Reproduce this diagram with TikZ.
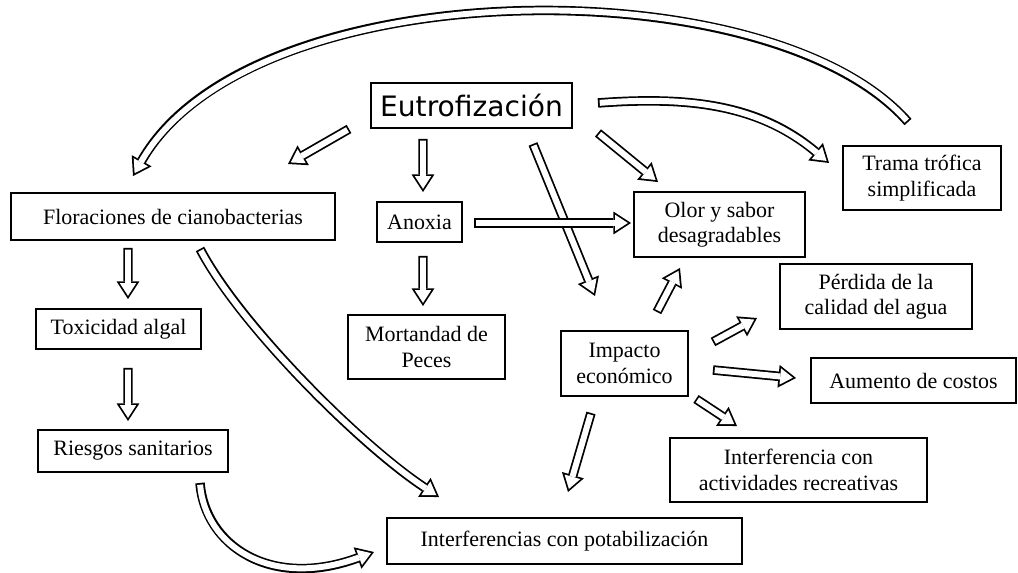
\documentclass[tikz,border=0pt]{standalone}
\usepackage{fontspec}
\setmainfont{Liberation Serif}
\newfontfamily\titulo{DejaVu Sans}
\usetikzlibrary{arrows.meta}

\def\px{0.02cm} % one pixel of the drawing
\tikzset{
  caja/.style 2 args={draw, line width=1.1pt, inner sep=0pt, align=center,
    minimum width=#1*\px, minimum height=#2*\px},
  % hollow arrow: black outline first, white core on top
  flecha/.style={white, line width=3.4pt, shorten <=1pt, shorten >=1.84pt,
    -{Triangle[length=7.17pt, width=9.31pt, line width=0pt]},
    preaction={draw=black, line width=5.4pt, shorten <=0pt, shorten >=0pt,
      -{Triangle[length=10pt, width=13pt, line width=0pt]}}}
}

\begin{document}
\begin{tikzpicture}[x=\px, y=-\px, font=\fontsize{12.5}{14.5}\selectfont]
  \useasboundingbox (0,0) rectangle (1018,573);

  % boxes
  \node[caja={201}{45}] (eutro) at (471.5,105.5) {\titulo\fontsize{16}{18}\selectfont Eutrofización};
  \node[caja={324}{47}] (flor)  at (173,216.5) {Floraciones de cianobacterias};
  \node[caja={85}{40}]  (anox)  at (419.5,222) {Anoxia};
  \node[caja={171}{65}] (olor)  at (719.5,224.5) {Olor y sabor\\desagradables};
  \node[caja={158}{64}] (trama) at (922,178) {Trama trófica\\simplificada};
  \node[caja={165}{40}] (tox)   at (118.5,329) {Toxicidad algal};
  \node[caja={157}{64}] (mort)  at (426.5,347) {Mortandad de\\Peces};
  \node[caja={127}{65}] (imp)   at (624.5,363.5) {Impacto\\económico};
  \node[caja={192}{65}] (perd)  at (876,296.5) {Pérdida de la\\calidad del agua};
  \node[caja={205}{45}] (aum)   at (913.5,380.5) {Aumento de costos};
  \node[caja={190}{42}] (ries)  at (133,451) {Riesgos sanitarios};
  \node[caja={257}{64}] (rec)   at (798.5,470) {Interferencia con\\actividades recreativas};
  \node[caja={355}{46}] (pot)   at (564.5,541) {Interferencias con potabilización};

  % arrows out of Eutrofizacion
  \draw[flecha] ([shift={(-21,0)}]eutro.south west) -- ([shift={(-48,-28)}]flor.north east);
  \draw[flecha] ([shift={(-48.5,10)}]eutro.south) -- ([shift={(3.5,-9)}]anox.north);
  \draw[flecha] ([shift={(61.5,15)}]eutro.south) -- ([shift={(-29.5,-34)}]imp.north);
  \draw[flecha] ([shift={(25,4)}]eutro.south east) -- ([shift={(-61.5,-9)}]olor.north);
  \draw[flecha] ([shift={(25,-2.5)}]eutro.east) .. controls (690,96) and (760,105) .. ([shift={(-13,-15)}]trama.west);
  \draw[flecha] ([shift={(-14,-23)}]trama.north) .. controls (770,-35) and (250,-30) .. ([shift={(-40,-16)}]flor.north);

  % left and middle column
  \draw[flecha] ([shift={(11,1)}]anox.east) -- ([shift={(-2,-1.5)}]olor.west);
  \draw[flecha] ([shift={(3.5,13)}]anox.south) -- ([shift={(-3.5,-8)}]mort.north);
  \draw[flecha] ([shift={(-45,7)}]flor.south) -- ([shift={(9.5,-9)}]tox.north);
  \draw[flecha] ([shift={(9.5,18)}]tox.south) -- ([shift={(-5,-8)}]ries.north);
  \draw[flecha] ([shift={(27,8)}]flor.south) .. controls (240,325) and (360,445) .. ([shift={(53,-20)}]pot.north west);
  \draw[flecha] ([shift={(-29,10)}]ries.south east) .. controls (205,545) and (270,590) .. ([shift={(-12,11)}]pot.west);

  % arrows out of Impacto
  \draw[flecha] ([shift={(32.5,-18)}]imp.north) -- ([shift={(-39.5,10)}]olor.south);
  \draw[flecha] ([shift={(24,-21.5)}]imp.east) -- ([shift={(-22,21.5)}]perd.west);
  \draw[flecha] ([shift={(24,6.5)}]imp.east) -- ([shift={(-14,-2.5)}]aum.west);
  \draw[flecha] ([shift={(7,2)}]imp.south east) -- ([shift={(-61.5,-11)}]rec.north);
  \draw[flecha] ([shift={(-33.5,16)}]imp.south) -- ([shift={(3.5,-25)}]pot.north);
\end{tikzpicture}
\end{document}
